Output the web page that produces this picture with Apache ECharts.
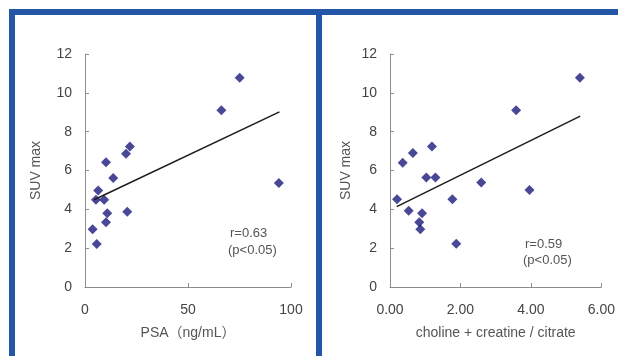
<!DOCTYPE html>
<html>
<head>
<meta charset="utf-8">
<script src="https://cdn.jsdelivr.net/npm/echarts@6/dist/echarts.min.js"></script>
<style>
  html, body { margin: 0; padding: 0; background: #fff; }
  #chart { width: 618px; height: 356px; }
</style>
</head>
<body>
<div id="chart"></div>
<script>
// left panel: PSA vs SUV max
const psaX = [75.1, 66.2, 94.1, 21.8, 19.9, 10.2, 13.7, 6.4, 5.3, 9.3, 10.8, 20.5, 10.2, 3.7, 5.7];
const psaSuv = [10.78, 9.1, 5.35, 7.23, 6.86, 6.42, 5.62, 4.97, 4.49, 4.49, 3.8, 3.88, 3.33, 2.98, 2.21];
const psaFitX = [4.4, 94.4];
const psaFitY = [4.49, 9.02];

// right panel: (choline + creatine) / citrate vs SUV max
const ratioX = [5.39, 3.58, 3.96, 2.59, 1.19, 0.65, 0.36, 1.03, 1.29, 0.20, 1.77, 0.53, 0.91, 0.83, 0.86, 1.88];
const ratioSuv = [10.78, 9.1, 5.0, 5.38, 7.24, 6.9, 6.4, 5.64, 5.64, 4.52, 4.52, 3.93, 3.8, 3.33, 2.98, 2.23];
const ratioFitX = [0.19, 5.40];
const ratioFitY = [4.14, 8.8];

const FONT = "'Liberation Sans', Arial, 'Noto Sans CJK JP', sans-serif";
const AXIS = "#8c8c8c";
const BLUE = "#2456a8";
const MARK = "#1a1a7c";

const zip = (xs, ys) => xs.map((x, i) => [x, ys[i]]);

const yAxisCfg = (gridIndex, nameGap) => ({
  gridIndex,
  type: "value",
  min: 0,
  max: 12,
  interval: 2,
  name: "SUV max",
  nameLocation: "middle",
  nameGap,
  nameTextStyle: { color: "#555", fontSize: 14, fontFamily: FONT },
  axisLine: { show: true, lineStyle: { color: AXIS } },
  axisTick: { show: true, inside: true, length: 4, lineStyle: { color: AXIS } },
  axisLabel: { color: "#444", fontSize: 14, fontFamily: FONT, margin: 13 },
  splitLine: { show: false },
});

const xAxisCfg = (gridIndex, max, interval, name, fmt) => ({
  gridIndex,
  type: "value",
  min: 0,
  max,
  interval,
  name,
  nameLocation: "middle",
  nameGap: 39,
  nameTextStyle: { color: "#555", fontSize: 14, fontFamily: FONT },
  axisLine: { show: true, lineStyle: { color: AXIS } },
  axisTick: { show: true, inside: true, length: 4, lineStyle: { color: AXIS } },
  axisLabel: { color: "#444", fontSize: 14, fontFamily: FONT, margin: 16, formatter: fmt },
  splitLine: { show: false },
});

const chart = echarts.init(document.getElementById("chart"));

chart.setOption({
  animation: false,
  backgroundColor: "#fff",
  grid: [
    { left: 85, top: 54, width: 206, height: 233 },
    { left: 390, top: 54, width: 214, height: 233 },
  ],
  xAxis: [
    xAxisCfg(0, 100, 50, "PSA（ng/mL）", (v) => String(v)),
    xAxisCfg(1, 6, 2, "choline + creatine / citrate", (v) => v.toFixed(2)),
  ],
  yAxis: [yAxisCfg(0, 42), yAxisCfg(1, 37)],
  series: [
    {
      type: "scatter",
      xAxisIndex: 0,
      yAxisIndex: 0,
      symbol: "diamond",
      symbolSize: 10,
      itemStyle: { color: MARK },
      data: zip(psaX, psaSuv),
    },
    {
      type: "line",
      xAxisIndex: 0,
      yAxisIndex: 0,
      showSymbol: false,
      lineStyle: { color: "#1e1e1e", width: 1.6 },
      data: zip(psaFitX, psaFitY),
    },
    {
      type: "scatter",
      xAxisIndex: 1,
      yAxisIndex: 1,
      symbol: "diamond",
      symbolSize: 10,
      itemStyle: { color: MARK },
      data: zip(ratioX, ratioSuv),
    },
    {
      type: "line",
      xAxisIndex: 1,
      yAxisIndex: 1,
      showSymbol: false,
      lineStyle: { color: "#1e1e1e", width: 1.6 },
      data: zip(ratioFitX, ratioFitY),
    },
  ],
  graphic: [
    // blue frame
    { type: "rect", shape: { x: 9, y: 9, width: 609, height: 6 }, style: { fill: BLUE } },
    { type: "rect", shape: { x: 9, y: 9, width: 6, height: 347 }, style: { fill: BLUE } },
    { type: "rect", shape: { x: 316, y: 9, width: 6, height: 347 }, style: { fill: BLUE } },
    // correlation notes
    { type: "text", left: 230, top: 227, style: { text: "r=0.63", fill: "#555", font: "13px " + FONT } },
    { type: "text", left: 228, top: 244, style: { text: "(p<0.05)", fill: "#555", font: "13px " + FONT } },
    { type: "text", left: 525, top: 238, style: { text: "r=0.59", fill: "#555", font: "13px " + FONT } },
    { type: "text", left: 523, top: 254, style: { text: "(p<0.05)", fill: "#555", font: "13px " + FONT } },
  ],
});
</script>
</body>
</html>
